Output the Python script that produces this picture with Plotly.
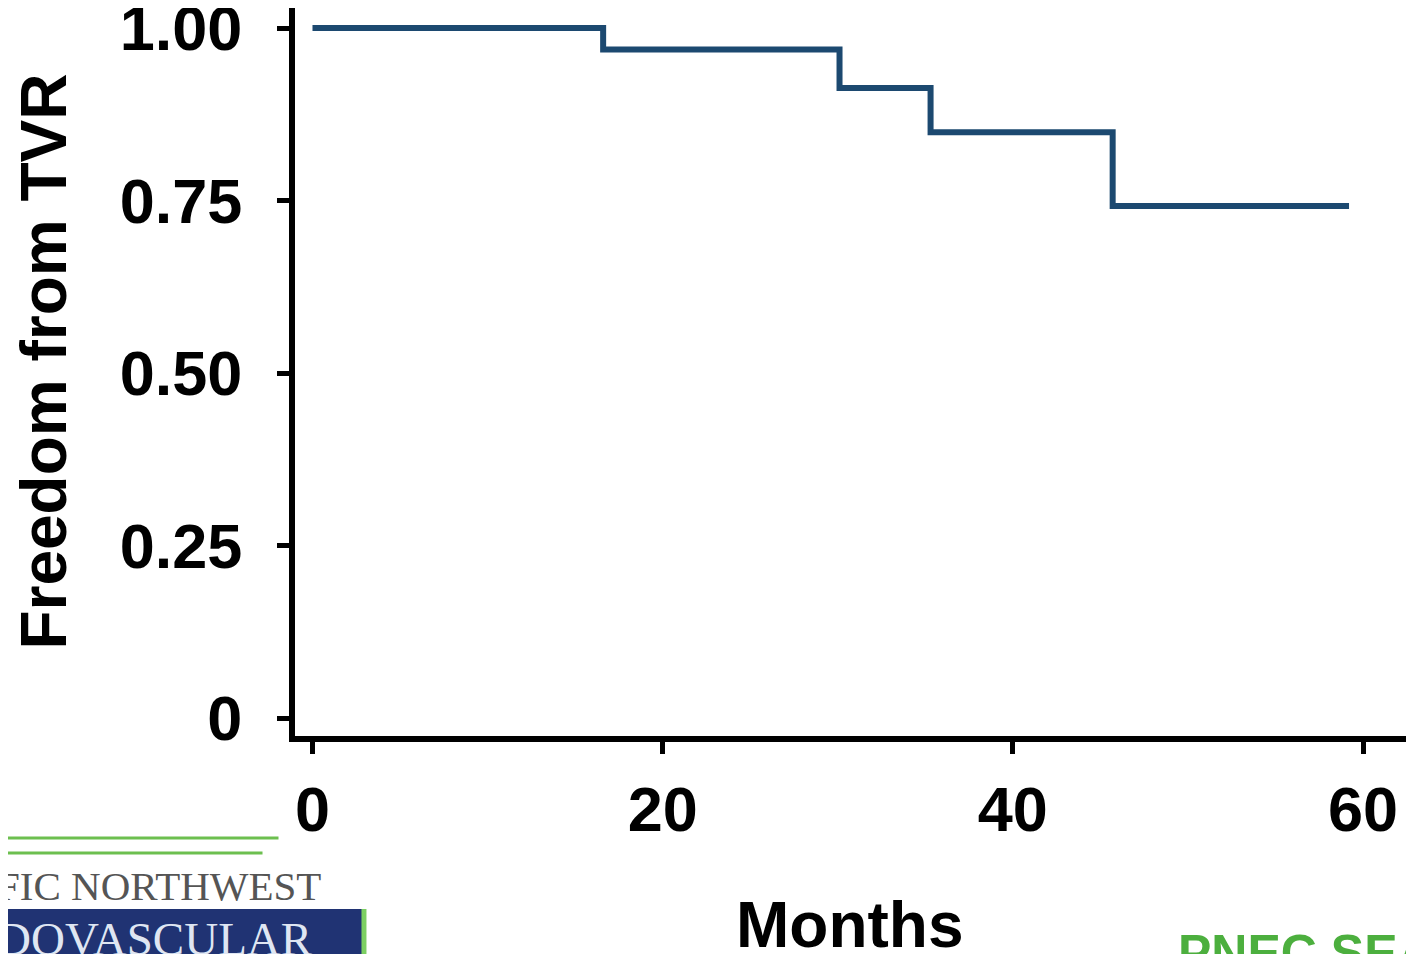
import plotly.graph_objects as go

# Data
months = [0, 16.6, 30.1, 35.3, 45.7, 59.2]
freedom = [1.0, 0.969, 0.913, 0.849, 0.742, 0.742]

x_tickvals = [0, 20, 40, 60]
x_ticktext = ["0", "20", "40", "60"]
y_tickvals = [0, 0.25, 0.5, 0.75, 1.0]
y_ticktext = ["0", "0.25", "0.50", "0.75", "1.00"]

OFF = 8  # page body margin
W, H = 1414 - OFF, 954 - OFF
L, R, T, B = 286.5, 0, 0, 954 - 736
PW, PH = W - L - R, H - T - B
XPX = 17.517   # pixels per month
YPX = 690.0    # pixels per unit of freedom
X0_PAGE = 312  # page x of month 0
Y0_PAGE = 718  # page y of freedom 0

x_lo = -(X0_PAGE - (L + OFF)) / XPX
y_lo = -((H + OFF - B) - Y0_PAGE) / YPX


def px(x):
    # x in page pixels
    return (x - OFF - L) / PW


def py(y):
    # y in page pixels
    return (H + OFF - B - y) / PH


FONT = "Liberation Sans, Arial, sans-serif"
SERIF = "Liberation Serif, Times New Roman, serif"

fig = go.Figure()
fig.add_trace(go.Scatter(
    x=months, y=freedom, mode="lines",
    line=dict(shape="hv", color="#1c4970", width=6),
    hoverinfo="skip", showlegend=False,
))

fig.update_layout(
    width=W, height=H,
    margin=dict(l=L, r=R, t=T, b=B, pad=0, autoexpand=False),
    paper_bgcolor="white", plot_bgcolor="white",
    showlegend=False,
    xaxis=dict(
        range=[x_lo, x_lo + PW / XPX], automargin=False,
        tickvals=x_tickvals, ticktext=x_ticktext,
        showgrid=False, zeroline=False,
        showline=True, linecolor="black", linewidth=6,
        ticks="outside", ticklen=12, tickwidth=5, tickcolor="black",
        tickfont=dict(family=FONT, size=63, color="black", weight="bold"),
        ticklabelstandoff=1, ticklabeloverflow="allow",
    ),
    yaxis=dict(
        range=[y_lo, y_lo + PH / YPX], automargin=False,
        tickvals=y_tickvals, ticktext=y_ticktext,
        showgrid=False, zeroline=False,
        showline=True, linecolor="black", linewidth=6,
        ticks="outside", ticklen=12, tickwidth=5, tickcolor="black",
        tickfont=dict(family=FONT, size=63, color="black", weight="bold"),
        ticklabelstandoff=22, ticklabeloverflow="allow",
    ),
)

annotations = [
    dict(text="Months", x=px(850), y=py(925), xref="paper", yref="paper",
         xanchor="center", yanchor="middle", showarrow=False,
         font=dict(family=FONT, size=64, color="black", weight="bold")),
    dict(text="Freedom from TVR", x=px(43), y=py(362), xref="paper", yref="paper",
         xanchor="center", yanchor="middle", showarrow=False, textangle=-90,
         font=dict(family=FONT, size=64, color="black", weight="bold")),
    dict(text="FIC NORTHWEST", x=px(-6), y=py(886), xref="paper", yref="paper",
         xanchor="left", yanchor="middle", showarrow=False,
         font=dict(family=SERIF, size=41, color="#555555")),
    dict(text="DOVASCULAR", x=px(-6), y=py(939), xref="paper", yref="paper",
         xanchor="left", yanchor="middle", showarrow=False,
         font=dict(family=SERIF, size=47, color="#dfe6f2")),
    dict(text="PNEC SEA", x=px(1176), y=py(953), xref="paper", yref="paper",
         xanchor="left", yanchor="middle", showarrow=False,
         font=dict(family=FONT, size=50, color="#4caf3e", weight="bold")),
]

shapes = [
    dict(type="line", xref="paper", yref="paper", x0=px(0), x1=px(278), y0=py(838), y1=py(838),
         line=dict(color="#6cbf4f", width=3)),
    dict(type="line", xref="paper", yref="paper", x0=px(0), x1=px(262), y0=py(853), y1=py(853),
         line=dict(color="#6cbf4f", width=3)),
    dict(type="rect", xref="paper", yref="paper", x0=px(360), x1=px(366), y0=py(909), y1=py(960),
         fillcolor="#7ccf62", line=dict(width=0), layer="below"),
    dict(type="rect", xref="paper", yref="paper", x0=px(-5), x1=px(361), y0=py(909), y1=py(960),
         fillcolor="#203373", line=dict(width=0), layer="below"),
]

fig.update_layout(annotations=annotations, shapes=shapes)
fig.write_html("out.html")
